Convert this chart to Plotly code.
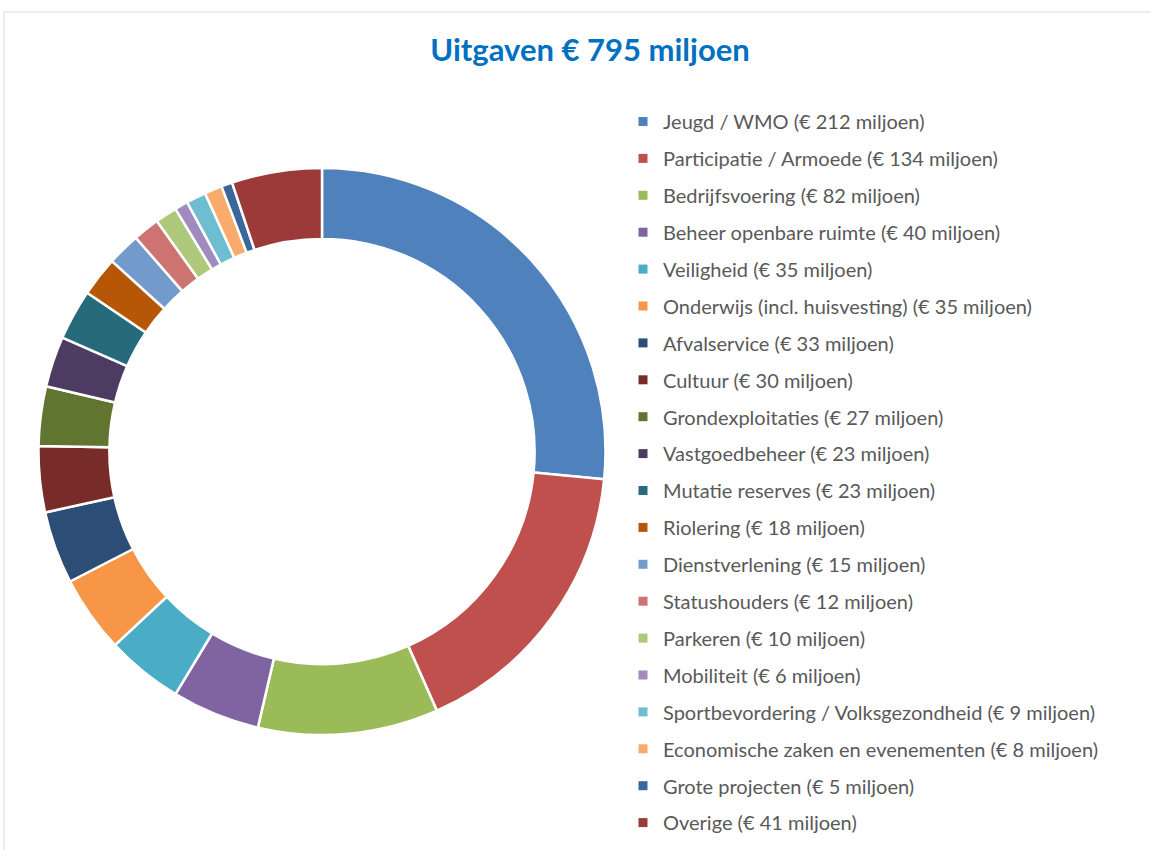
import plotly.graph_objects as go

categories = [
    "Jeugd / WMO", "Participatie / Armoede", "Bedrijfsvoering", "Beheer openbare ruimte",
    "Veiligheid", "Onderwijs (incl. huisvesting)", "Afvalservice", "Cultuur",
    "Grondexploitaties", "Vastgoedbeheer", "Mutatie reserves", "Riolering",
    "Dienstverlening", "Statushouders", "Parkeren", "Mobiliteit",
    "Sportbevordering / Volksgezondheid", "Economische zaken en evenementen",
    "Grote projecten", "Overige",
]
values = [212, 134, 82, 40, 35, 35, 33, 30, 27, 23, 23, 18, 15, 12, 10, 6, 9, 8, 5, 41]
colors = [
    "#4F81BD", "#C0504D", "#9BBB59", "#8064A2", "#4BACC6", "#F79646",
    "#2C4D75", "#772C2A", "#5F7530", "#4D3B62", "#276A7C", "#B65708",
    "#729ACA", "#CD7371", "#AFC97A", "#A08BBE", "#6FBDD1", "#F9AB6B",
    "#3A679C", "#9B3A38",
]
title_text = "Uitgaven € 795 miljoen"

labels = [f"{c} (€ {v} miljoen)" for c, v in zip(categories, values)]

W, H = 1151, 850
cx, cy, r = 322, 451.5, 283.5
LEG_FS = 20
ROW = 36.9

fig = go.Figure()
fig.add_trace(go.Pie(
    labels=labels, values=values, sort=False, direction="clockwise", rotation=0,
    hole=0.75, textinfo="none", showlegend=False,
    marker=dict(colors=colors, line=dict(color="white", width=2.5)),
    domain=dict(x=[(cx - r) / W, (cx + r) / W], y=[(H - cy - r) / H, (H - cy + r) / H]),
    hoverinfo="label",
))
for i, (lab, col) in enumerate(zip(labels, colors)):
    fig.add_trace(go.Scatter(
        x=[None], y=[None], mode="markers", name=lab, legendgroup=f"g{i}",
        marker=dict(symbol="square", size=9, color=col), showlegend=True,
    ))

fig.update_layout(
    width=W, height=H,
    margin=dict(l=0, r=0, t=0, b=0),
    paper_bgcolor="white", plot_bgcolor="white",
    xaxis=dict(visible=False), yaxis=dict(visible=False),
    title=dict(text=f"<b>{title_text}</b>", x=590 / W, xanchor="center", y=1 - 50 / H, yanchor="middle",
               font=dict(family="Lato", size=31, color="#0070C0")),
    legend=dict(
        x=623 / W, xanchor="left", y=1 - 102 / H, yanchor="top",
        font=dict(family="Lato", size=LEG_FS, color="#595959"),
        tracegroupgap=ROW - (LEG_FS * 1.3 + 3), itemclick=False, bgcolor="rgba(0,0,0,0)",
    ),
    shapes=[dict(type="rect", xref="paper", yref="paper",
                 x0=4 / W, x1=1.02, y0=-0.02, y1=1 - 12 / H,
                 line=dict(color="#D9D9D9", width=1), fillcolor="rgba(0,0,0,0)", layer="below")],
)
fig.write_html("out.html", config={"displayModeBar": False},
               post_script="document.body.style.margin='0px';")
